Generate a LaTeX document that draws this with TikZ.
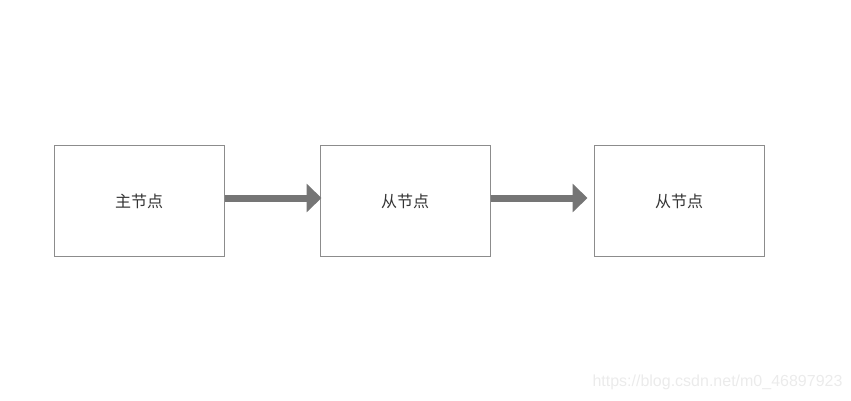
\documentclass[tikz,border=0pt]{standalone}
\usepackage{fontspec}
\setmainfont{Liberation Sans}
\newfontfamily\cjk{Noto Sans CJK SC}
\usetikzlibrary{arrows.meta}
\usetikzlibrary{calc}
\definecolor{boxgray}{HTML}{8C8C8C}
\definecolor{arrowgray}{HTML}{757575}
\definecolor{markgray}{HTML}{EBEBEB}
\tikzset{
    nodebox/.style={draw=boxgray, line width=1pt, minimum width=170pt, minimum height=111pt, font=\cjk\fontsize{16}{19}\selectfont, text=black!80},
    bigarrow/.style={arrowgray, line width=7pt, -{Triangle[length=15pt, width=28pt]}}
}

\begin{document}
\begin{tikzpicture}[x=1pt, y=-1pt]
        \useasboundingbox (0,0) rectangle (851,401);
        \node[nodebox] (master) at (139,201) {主节点};
        \node[nodebox] (slaveA) at (405,201) {从节点};
        \node[nodebox] (slaveB) at (679,201) {从节点};
        \draw[bigarrow] ($(master.east)+(0,-3)$) -- ($(slaveA.west)+(2,-3)$);
        \draw[bigarrow] ($(slaveA.east)+(0,-3)$) -- ($(slaveB.west)+(-6,-3)$);
        \node[anchor=east, text=markgray, font=\fontsize{16}{18}\selectfont] (mark) at (846,382) {https://blog.csdn.net/m0\_46897923};
    \end{tikzpicture}
\end{document}
